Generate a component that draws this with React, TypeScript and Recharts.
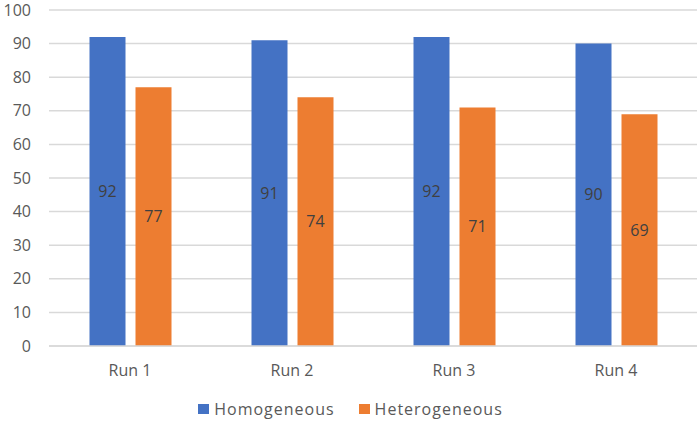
import React from "react";
import {
  BarChart,
  Bar,
  XAxis,
  YAxis,
  CartesianGrid,
  Legend,
  LabelList,
} from "recharts";

// Values
const runs = ["Run 1", "Run 2", "Run 3", "Run 4"];
const homogeneous = [92, 91, 92, 90];
const heterogeneous = [77, 74, 71, 69];
const yTicks = [0, 10, 20, 30, 40, 50, 60, 70, 80, 90, 100];
const seriesNames = ["Homogeneous", "Heterogeneous"];

const data = runs.map((run, i) => ({
  run,
  Homogeneous: homogeneous[i],
  Heterogeneous: heterogeneous[i],
}));

const FONT = "'Open Sans', 'Noto Sans', sans-serif";
const COLORS = ["#4472c4", "#ed7d31"];

// legend kept in series order (recharts sorts by name otherwise)
const LegendBox: React.FC = () => (
  <div
    style={{
      display: "flex",
      justifyContent: "center",
      alignItems: "center",
      gap: 24,
      fontSize: 16,
      color: "#595959",
      letterSpacing: 1,
      height: 24,
      paddingLeft: 4,
    }}
  >
    {seriesNames.map((name, i) => (
      <span key={name} style={{ display: "flex", alignItems: "center" }}>
        <span
          style={{
            width: 11,
            height: 10,
            background: COLORS[i],
            display: "inline-block",
            marginRight: 5,
          }}
        />
        {name}
      </span>
    ))}
  </div>
);

const App: React.FC = () => {
  return (
    <div style={{ position: "fixed", top: 0, left: 0, background: "#fff" }}>
      <BarChart
        width={699}
        height={421}
        data={data}
        margin={{ top: 10, right: 2, left: 0, bottom: 0 }}
        barCategoryGap="25%"
        barGap={10}
        style={{ fontFamily: FONT }}
      >
        {/* Horizontal grid only */}
        <CartesianGrid vertical={false} stroke="#d9d9d9" strokeWidth={1.5} />
        <XAxis
          dataKey="run"
          axisLine={{ stroke: "#d9d9d9", strokeWidth: 1.5 }}
          tickLine={false}
          tick={{ fill: "#595959", fontSize: 16 }}
          tickMargin={13}
          height={51}
        />
        <YAxis
          domain={[0, 100]}
          ticks={yTicks}
          axisLine={false}
          tickLine={false}
          tick={{ fill: "#595959", fontSize: 16 }}
          tickMargin={12}
          width={49}
        />
        <Legend height={24} content={<LegendBox />} />
        <Bar dataKey="Homogeneous" fill={COLORS[0]} isAnimationActive={false}>
          <LabelList dataKey="Homogeneous" position="center" fill="#404040" fontSize={16} />
        </Bar>
        <Bar dataKey="Heterogeneous" fill={COLORS[1]} isAnimationActive={false}>
          <LabelList dataKey="Heterogeneous" position="center" fill="#404040" fontSize={16} />
        </Bar>
      </BarChart>
    </div>
  );
};

export default App;
